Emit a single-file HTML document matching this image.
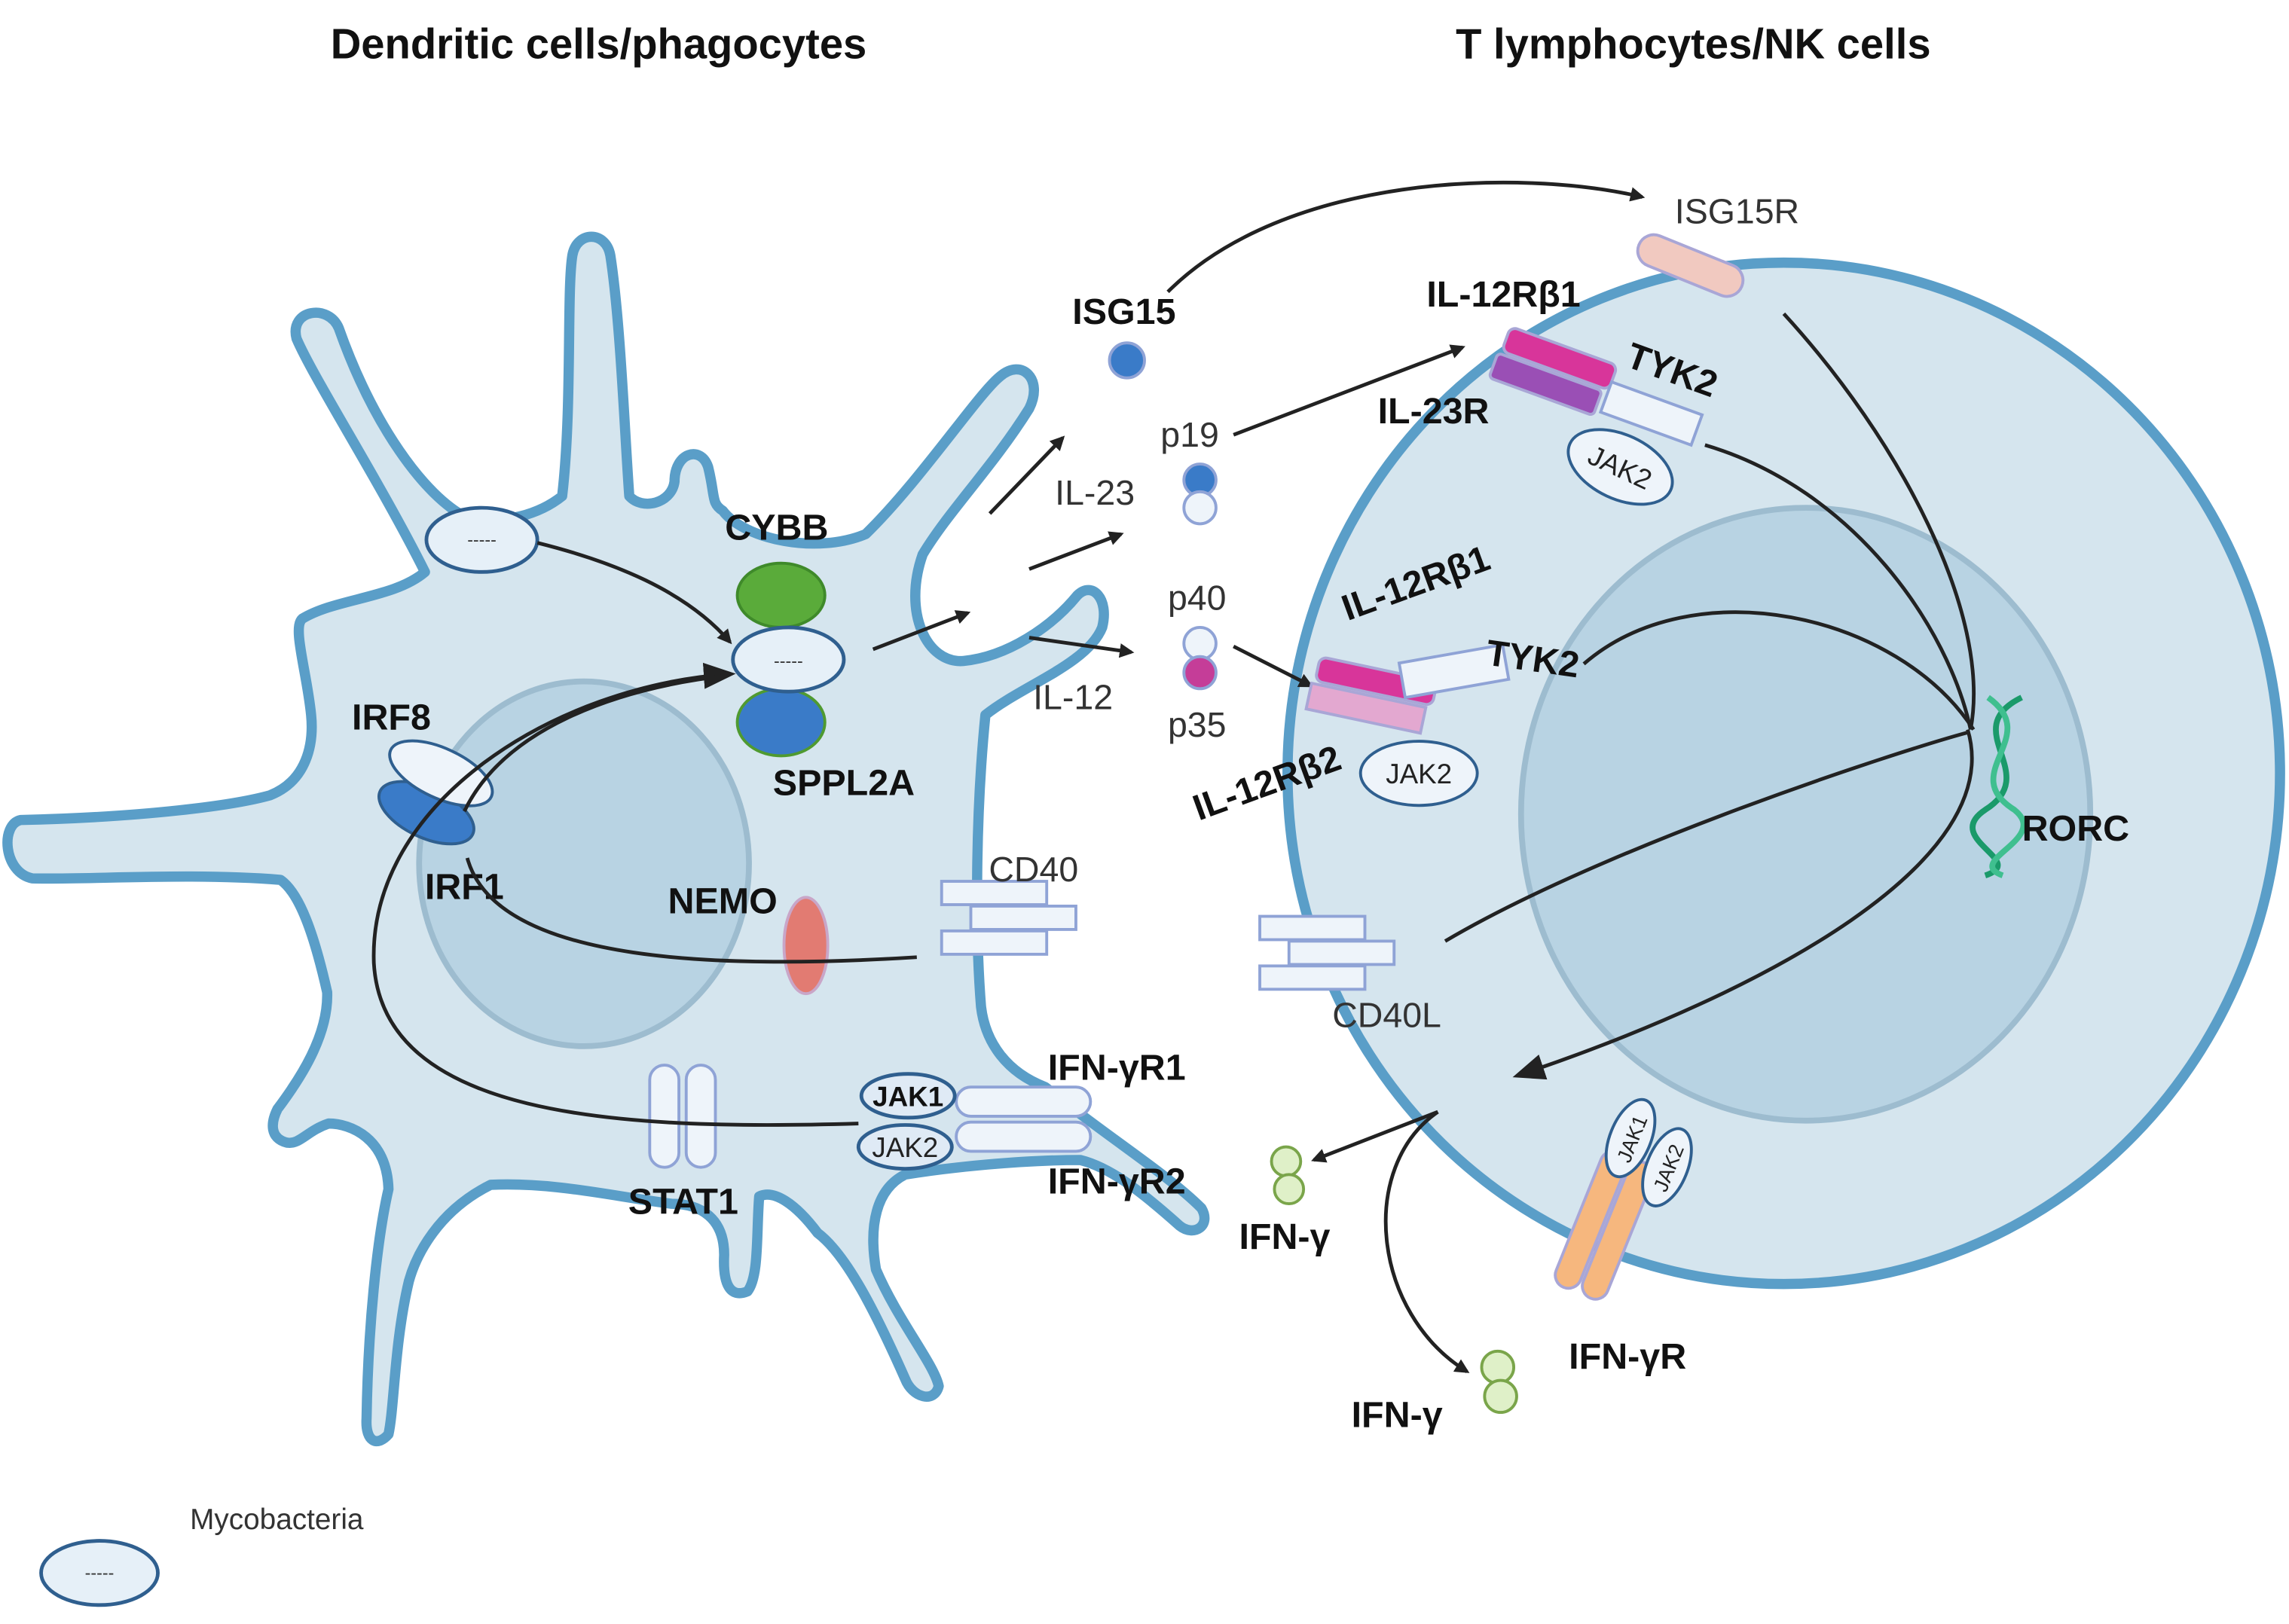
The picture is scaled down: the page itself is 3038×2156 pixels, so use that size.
<!DOCTYPE html>
<html><head><meta charset="utf-8"><style>
html,body{margin:0;padding:0;background:#fff;}
svg{display:block;}
text{font-family:"Liberation Sans",sans-serif;}
.b{font-weight:bold;font-size:25px;fill:#111;}
.n{font-size:24px;fill:#333;}
.t{font-weight:bold;font-size:29px;fill:#111;}
</style></head><body>
<svg width="3038" height="2156" viewBox="0 0 1568 1113" xmlns="http://www.w3.org/2000/svg">
<defs>
<marker id="ar" markerWidth="10" markerHeight="10" refX="8" refY="5" orient="auto" markerUnits="userSpaceOnUse" viewBox="0 0 10 10">
<path d="M0,0 L10,5 L0,10 Z" fill="#222"/></marker>
<marker id="ar2" markerWidth="22" markerHeight="22" refX="18" refY="11" orient="auto" markerUnits="userSpaceOnUse" viewBox="0 0 22 22">
<path d="M0,2 L22,11 L0,20 Z" fill="#222"/></marker>
</defs>
<text class="t" x="410" y="40" text-anchor="middle">Dendritic cells/phagocytes</text>
<text class="t" x="1160" y="40" text-anchor="middle">T lymphocytes/NK cells</text>

<!-- Dendritic cell -->
<path d="M14,562 C100,560 160,552 185,545 C210,535 215,510 213,490 C210,460 200,430 207,424 C230,410 270,410 291,392 C260,330 215,260 203,232 C198,212 225,208 232,225 C255,290 290,340 320,355 C345,360 370,352 385,340 C392,280 388,200 392,175 C395,158 415,158 418,175 C425,220 428,300 431,340 C440,350 460,345 462,330 C462,310 480,305 485,320 C490,340 487,345 495,350 C510,370 560,380 593,366 C630,330 670,270 685,258 C700,245 715,260 705,280 C680,320 650,350 632,380 C618,420 635,455 660,453 C690,450 720,430 738,408 C748,398 760,410 755,430 C745,455 700,470 675,490 C668,560 668,640 672,690 C675,715 690,735 716,745 C760,780 800,805 823,828 C830,840 818,848 808,840 C780,815 760,800 740,795 C700,795 650,800 620,805 C600,815 595,840 600,870 C615,905 640,935 643,950 C640,962 625,958 620,945 C600,900 580,860 560,845 C545,825 530,815 520,820 C518,845 520,875 512,885 C500,890 495,880 496,860 C496,835 480,825 460,825 C420,820 380,810 336,812 C300,830 285,860 280,878 C270,920 270,965 266,983 C258,992 250,988 251,972 C252,910 258,850 266,815 C265,780 240,770 225,770 C210,775 205,785 196,783 C185,780 185,770 190,760 C205,740 225,710 224,680 C215,640 205,612 192,603 C130,598 60,603 22,602 C2,598 0,565 14,562 Z" fill="#d5e5ee" stroke="#5a9ec8" stroke-width="7" stroke-linejoin="round"/>
<ellipse cx="400" cy="592" rx="113" ry="125" fill="#b8d3e3" stroke="#9dbccf" stroke-width="4"/>

<!-- T cell -->
<ellipse cx="1222" cy="530" rx="340" ry="350" fill="#d5e5ee" stroke="#5a9ec8" stroke-width="7"/>
<ellipse cx="1237" cy="558" rx="195" ry="210" fill="#b8d3e3" stroke="#9dbccf" stroke-width="4"/>

<!-- mycobacteria -->
<ellipse cx="330" cy="370" rx="38" ry="22" fill="#e6f0f8" stroke="#2f5f8f" stroke-width="2.5"/>
<text x="330" y="374" font-size="12" text-anchor="middle" fill="#333">-----</text>
<path d="M368,372 C420,385 470,405 500,440" fill="none" stroke="#222" stroke-width="2.5" marker-end="url(#ar)"/>

<ellipse cx="535" cy="408" rx="30" ry="22" fill="#5aab3a" stroke="#3f8a2a" stroke-width="2"/>
<ellipse cx="535" cy="495" rx="30" ry="23" fill="#3a7bc8" stroke="#4f9a30" stroke-width="2"/>
<ellipse cx="540" cy="452" rx="38" ry="22" fill="#e6f0f8" stroke="#2f5f8f" stroke-width="2.5"/>
<text x="540" y="457" font-size="12" text-anchor="middle" fill="#333">-----</text>
<text class="b" x="532" y="370" text-anchor="middle">CYBB</text>
<text class="b" x="578" y="545" text-anchor="middle">SPPL2A</text>

<!-- IRF -->
<ellipse cx="292" cy="557" rx="35" ry="17" transform="rotate(25 292 557)" fill="#3a7bc8" stroke="#2f5f8f" stroke-width="2"/>
<ellipse cx="302" cy="530" rx="38" ry="17" transform="rotate(25 302 530)" fill="#eef4fa" stroke="#2f5f8f" stroke-width="2"/>
<text class="b" x="268" y="500" text-anchor="middle">IRF8</text>
<text class="b" x="318" y="616" text-anchor="middle">IRF1</text>

<!-- NEMO -->
<ellipse cx="552" cy="648" rx="15" ry="33" fill="#e27b72" stroke="#c9a6c8" stroke-width="2"/>
<text class="b" x="495" y="626" text-anchor="middle">NEMO</text>

<!-- CD40 -->
<g fill="#eef4fa" stroke="#8fa3d6" stroke-width="2">
<rect x="645" y="604" width="72" height="16"/>
<rect x="665" y="621" width="72" height="16"/>
<rect x="645" y="638" width="72" height="16"/>
<rect x="863" y="628" width="72" height="16"/>
<rect x="883" y="645" width="72" height="16"/>
<rect x="863" y="662" width="72" height="16"/>
</g>
<text class="n" x="708" y="604" text-anchor="middle">CD40</text>
<text class="n" x="950" y="704" text-anchor="middle">CD40L</text>

<!-- STAT1 -->
<rect x="445" y="730" width="20" height="70" rx="10" fill="#eef4fa" stroke="#8fa3d6" stroke-width="2"/>
<rect x="470" y="730" width="20" height="70" rx="10" fill="#eef4fa" stroke="#8fa3d6" stroke-width="2"/>
<text class="b" x="468" y="832" text-anchor="middle">STAT1</text>

<!-- IFNgR1/2 -->
<rect x="655" y="745" width="92" height="20" rx="10" fill="#eef4fa" stroke="#8fa3d6" stroke-width="2"/>
<rect x="655" y="769" width="92" height="20" rx="10" fill="#eef4fa" stroke="#8fa3d6" stroke-width="2"/>
<ellipse cx="622" cy="751" rx="32" ry="15" fill="#dfeaf5" stroke="#2f5f8f" stroke-width="2.5"/>
<ellipse cx="620" cy="786" rx="32" ry="15" fill="#dfeaf5" stroke="#2f5f8f" stroke-width="2.5"/>
<text x="622" y="758" font-size="19" font-weight="bold" text-anchor="middle" fill="#111">JAK1</text>
<text x="620" y="793" font-size="19" text-anchor="middle" fill="#222">JAK2</text>
<text class="b" x="765" y="740" text-anchor="middle">IFN-γR1</text>
<text class="b" x="765" y="818" text-anchor="middle">IFN-γR2</text>

<!-- left curves -->
<g fill="none" stroke="#222" stroke-width="2.5">
<path d="M628,656 C500,664 340,662 320,588"/>
<path d="M588,770 C420,775 262,765 256,660 C252,550 380,470 500,462" marker-end="url(#ar2)"/>
<path d="M318,556 C345,500 420,472 498,463"/>
<path d="M598,445 L663,420" marker-end="url(#ar)"/>
<path d="M678,352 L728,300" marker-end="url(#ar)"/>
<path d="M705,390 L768,366" marker-end="url(#ar)"/>
<path d="M705,437 L775,447" marker-end="url(#ar)"/>
<path d="M800,200 C880,120 1040,115 1125,135" marker-end="url(#ar)"/>
<path d="M845,298 L1002,238" marker-end="url(#ar)"/>
<path d="M845,443 L898,470" marker-end="url(#ar)"/>
</g>

<!-- ISG15 -->
<text class="b" x="770" y="222" text-anchor="middle">ISG15</text>
<circle cx="772" cy="247" r="12" fill="#3a7bc8" stroke="#8fa3d6" stroke-width="2"/>
<text class="n" x="1190" y="153" text-anchor="middle">ISG15R</text>
<rect x="1120" y="171" width="76" height="22" rx="11" transform="rotate(22 1158 182)" fill="#f1c9c0" stroke="#a9a6d6" stroke-width="2"/>

<!-- p19 -->
<text class="n" x="815" y="306" text-anchor="middle">p19</text>
<circle cx="822" cy="329" r="11" fill="#3a7bc8" stroke="#8fa3d6" stroke-width="2"/>
<circle cx="822" cy="348" r="11" fill="#eef4fa" stroke="#8fa3d6" stroke-width="2"/>
<text class="n" x="750" y="346" text-anchor="middle">IL-23</text>

<!-- IL-12Rb1/IL23R top -->
<g transform="rotate(20 1065 255)">
<rect x="1026" y="236" width="78" height="18" rx="5" fill="#d8359a" stroke="#a9a6d6" stroke-width="2"/>
<rect x="1024" y="256" width="76" height="18" rx="3" fill="#9a4fb5" stroke="#a9a6d6" stroke-width="2"/>
<rect x="1104" y="248" width="66" height="22" fill="#eef4fa" stroke="#8fa3d6" stroke-width="2"/>
</g>
<text class="b" x="1030" y="210" text-anchor="middle">IL-12Rβ1</text>
<text class="b" x="1145" y="262" text-anchor="middle" transform="rotate(20 1145 255)">TYK2</text>
<text class="b" x="982" y="290" text-anchor="middle">IL-23R</text>
<ellipse cx="1110" cy="320" rx="38" ry="22" transform="rotate(25 1110 320)" fill="#eef4fa" stroke="#2f5f8f" stroke-width="2"/>
<text x="1110" y="327" font-size="19" text-anchor="middle" fill="#222" transform="rotate(25 1110 320)">JAK2</text>

<!-- p40/p35 -->
<text class="n" x="820" y="418" text-anchor="middle">p40</text>
<circle cx="822" cy="441" r="11" fill="#eef4fa" stroke="#8fa3d6" stroke-width="2"/>
<circle cx="822" cy="461" r="11" fill="#c53d98" stroke="#8fa3d6" stroke-width="2"/>
<text class="n" x="735" y="486" text-anchor="middle">IL-12</text>
<text class="n" x="820" y="505" text-anchor="middle">p35</text>

<g transform="rotate(12 940 475)">
<rect x="900" y="458" width="82" height="17" rx="5" fill="#d8359a" stroke="#a9a6d6" stroke-width="2"/>
<rect x="898" y="477" width="80" height="18" fill="#e3a8d0" stroke="#a9a6d6" stroke-width="2"/>
</g>
<rect x="960" y="448" width="72" height="24" transform="rotate(-10 996 460)" fill="#eef4fa" stroke="#8fa3d6" stroke-width="2"/>
<text class="b" x="970" y="408" text-anchor="middle" transform="rotate(-20 970 400)">IL-12Rβ1</text>
<text class="b" x="1050" y="460" text-anchor="middle" transform="rotate(8 1050 452)">TYK2</text>
<text class="b" x="868" y="545" text-anchor="middle" transform="rotate(-20 868 537)">IL-12Rβ2</text>
<ellipse cx="972" cy="530" rx="40" ry="22" fill="#eef4fa" stroke="#2f5f8f" stroke-width="2"/>
<text x="972" y="537" font-size="19" text-anchor="middle" fill="#222">JAK2</text>

<!-- RORC -->
<g fill="none" stroke-width="4">
<path d="M1385,478 C1340,500 1400,530 1360,555 C1330,575 1390,590 1360,600" stroke="#1a9a6a"/>
<path d="M1362,478 C1400,505 1340,530 1380,555 C1405,575 1345,590 1372,600" stroke="#3fbf8f"/>
</g>
<text class="b" x="1422" y="576" text-anchor="middle">RORC</text>

<!-- right curves -->
<g fill="none" stroke="#222" stroke-width="2.5">
<path d="M1222,215 C1300,300 1365,420 1350,500"/>
<path d="M1168,305 C1270,335 1335,430 1350,500"/>
<path d="M1085,455 C1160,390 1300,420 1352,500"/>
<path d="M990,645 C1100,580 1300,515 1348,502"/>
<path d="M1348,500 C1375,590 1210,680 1040,737" marker-end="url(#ar2)"/>
<path d="M985,762 L900,795" marker-end="url(#ar)"/>
<path d="M985,762 C930,800 940,900 1005,940" marker-end="url(#ar)"/>
</g>

<!-- IFN-g -->
<g fill="#dff0c8" stroke="#7aa54a" stroke-width="2">
<circle cx="881" cy="796" r="10"/><circle cx="883" cy="815" r="10"/>
<circle cx="1026" cy="937" r="11"/><circle cx="1028" cy="957" r="11"/>
</g>
<text class="b" x="880" y="856" text-anchor="middle">IFN-γ</text>
<text class="b" x="957" y="978" text-anchor="middle">IFN-γ</text>

<!-- IFN-gR -->
<g transform="rotate(22 1100 840)">
<rect x="1080" y="790" width="18" height="100" rx="9" fill="#f6b77e" stroke="#a9a6d6" stroke-width="2"/>
<rect x="1100" y="790" width="18" height="100" rx="9" fill="#f6b77e" stroke="#a9a6d6" stroke-width="2"/>
</g>
<ellipse cx="1117" cy="780" rx="14" ry="28" transform="rotate(22 1117 780)" fill="#eef4fa" stroke="#2f5f8f" stroke-width="2"/>
<ellipse cx="1142" cy="800" rx="14" ry="28" transform="rotate(22 1142 800)" fill="#eef4fa" stroke="#2f5f8f" stroke-width="2"/>
<text x="1117" y="786" font-size="14" text-anchor="middle" fill="#222" transform="rotate(-68 1117 780)">JAK1</text>
<text x="1142" y="806" font-size="14" text-anchor="middle" fill="#222" transform="rotate(-68 1142 800)">JAK2</text>
<text class="b" x="1115" y="938" text-anchor="middle">IFN-γR</text>

<!-- legend -->
<ellipse cx="68" cy="1078" rx="40" ry="22" fill="#e6f0f8" stroke="#2f5f8f" stroke-width="2.5"/>
<text x="68" y="1082" font-size="12" text-anchor="middle" fill="#333">-----</text>
<text x="130" y="1048" font-size="20" fill="#333">Mycobacteria</text>
</svg>
</body></html>
